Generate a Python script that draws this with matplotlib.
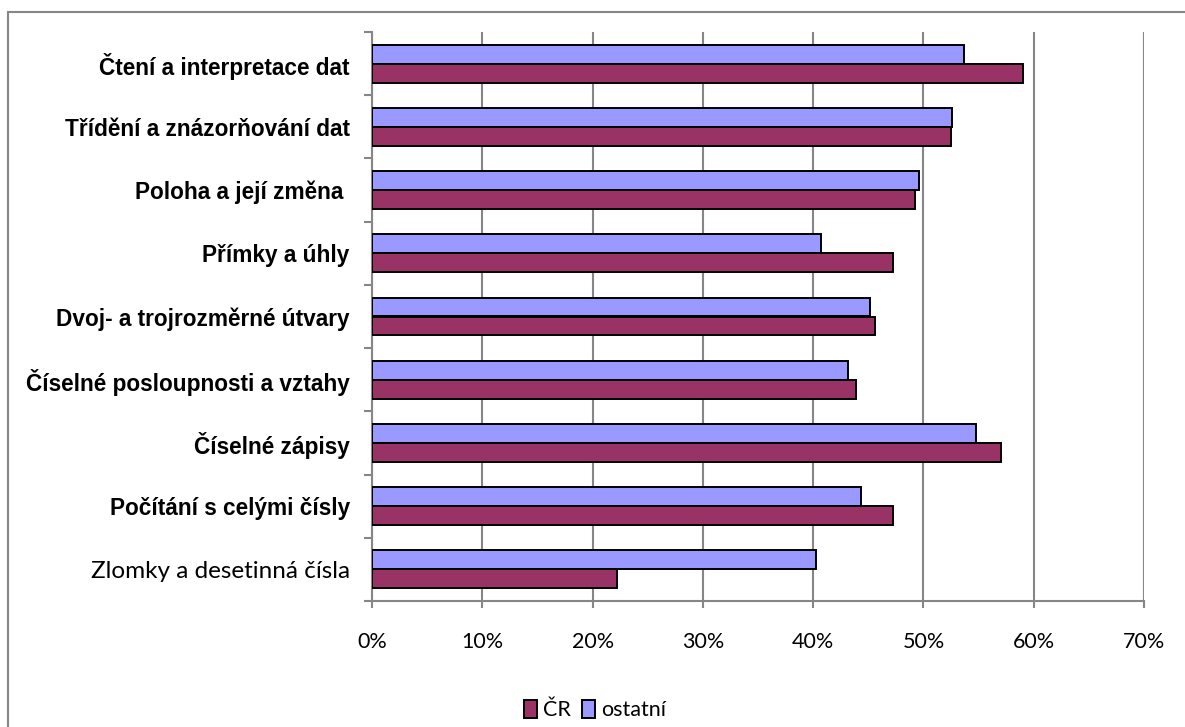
import numpy as np
import matplotlib.pyplot as plt
from matplotlib.patches import Rectangle

kategorie = ["Čtení a interpretace dat",
             "Třídění a znázorňování dat",
             "Poloha a její změna ",
             "Přímky a úhly",
             "Dvoj- a trojrozměrné útvary",
             "Číselné posloupnosti a vztahy",
             "Číselné zápisy",
             "Počítání s celými čísly",
             "Zlomky a desetinná čísla"]
cr      = [59.0, 52.5, 49.2, 47.2, 45.6, 43.9, 57.0, 47.2, 22.2]
ostatni = [53.7, 52.6, 49.6, 40.7, 45.2, 43.2, 54.8, 44.3, 40.3]
tucne   = [True, True, True, True, True, True, True, True, False]
xticks  = [0, 10, 20, 30, 40, 50, 60, 70]

W, H = 1185, 727
fig = plt.figure(figsize=(W/100, H/100), dpi=100)
ax = fig.add_axes([372/W, 1-601/H, (1144-372)/W, (601-32)/H])

# ramecek grafu
fig.patches.append(Rectangle((8/W, -0.1), 1.2, 1-12/H+0.1, transform=fig.transFigure,
                             fill=False, edgecolor="#868686", lw=1.5))

y = np.arange(len(kategorie))
h = 0.3
ax.barh(y - h/2, ostatni, height=h, color="#9999FF", edgecolor="black", lw=1.4,
        label="ostatní", zorder=3)
ax.barh(y + h/2, cr, height=h, color="#993366", edgecolor="black", lw=1.4,
        label="ČR", zorder=3)

ax.set_xlim(0, 70)
ax.set_ylim(len(kategorie) - 0.5, -0.5)
ax.set_xticks(xticks)
ax.set_xticklabels([f"{v}%" for v in xticks], family="Lato", fontsize=15.5)
ax.xaxis.grid(True, color="#868686", lw=1.5, zorder=0)
ax.tick_params(axis="x", length=5, width=1.5, color="#868686", pad=17)

ax.set_yticks(y)
ax.set_yticklabels(kategorie)
ax.set_yticks(np.arange(-0.5, len(kategorie)), minor=True)
ax.tick_params(axis="y", which="major", length=0, pad=16)
ax.tick_params(axis="y", which="minor", length=6, width=1.5, color="#868686")
for lab, b in zip(ax.get_yticklabels(), tucne):
    if b:
        lab.set_family("Liberation Sans")
        lab.set_fontweight("bold")
        lab.set_fontsize(16.3)
    else:
        lab.set_family("Lato")
        lab.set_fontsize(17.5)

for s in ["top", "right"]:
    ax.spines[s].set_visible(False)
for s in ["left", "bottom"]:
    ax.spines[s].set_color("#868686")
    ax.spines[s].set_linewidth(1.5)

hnd, lbl = ax.get_legend_handles_labels()
fig.legend(hnd[::-1], lbl[::-1], loc="center", bbox_to_anchor=(595/W, 1-710/H),
           ncol=2, frameon=False, handlelength=0.6, handleheight=0.9,
           handletextpad=0.3, columnspacing=0.5, prop={"family": "Lato", "size": 15.5})

fig.savefig("out.png", dpi=100)
